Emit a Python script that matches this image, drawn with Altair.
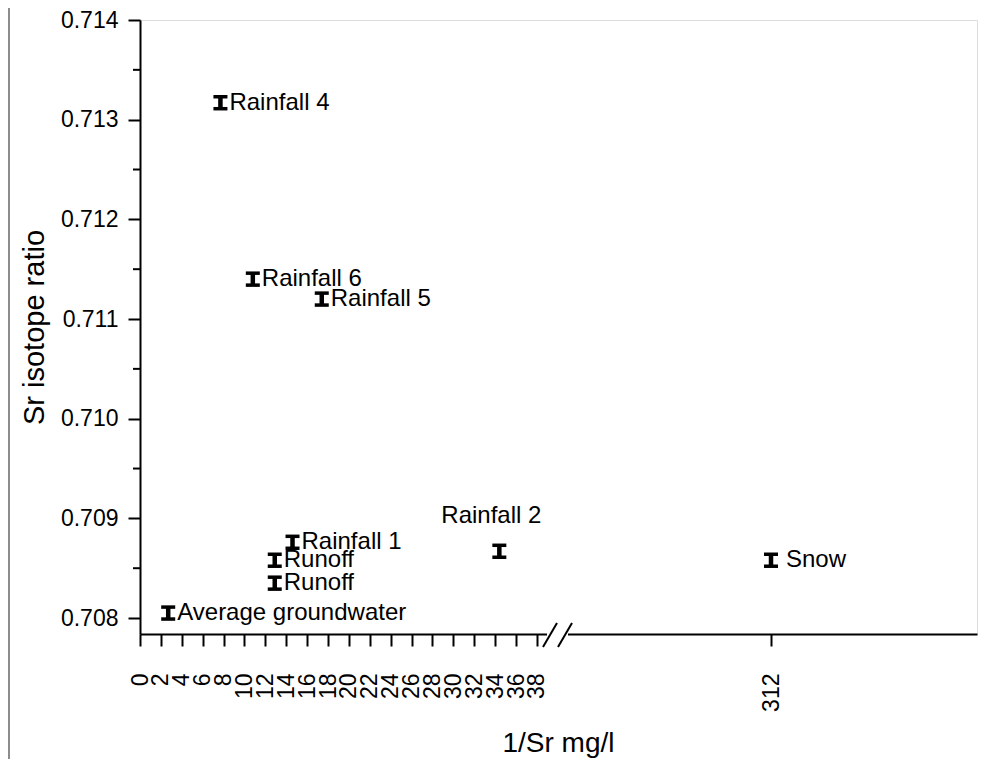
import altair as alt
import pandas as pd

FONT = "Liberation Sans"

# ---- data ----
labels = ["Rainfall 4", "Rainfall 6", "Rainfall 5", "Rainfall 1", "Runoff", "Runoff",
          "Average groundwater", "Rainfall 2", "Snow"]
inv_sr = [7.7, 10.8, 17.4, 14.6, 12.9, 12.9, 2.7, 34.4, 312.0]
sr_ratio = [0.71317, 0.71140, 0.71120, 0.70876, 0.70858, 0.70835, 0.70805, 0.70867, 0.70858]
sr_err = [0.00006, 0.00006, 0.00006, 0.00006, 0.00006, 0.00006, 0.00006, 0.00006, 0.00006]

x_ticks = [0, 2, 4, 6, 8, 10, 12, 14, 16, 18, 20, 22, 24, 26, 28, 30, 32, 34, 36, 38, 312]
y_ticks = [0.708, 0.709, 0.710, 0.711, 0.712, 0.713, 0.714]
y_minor = [0.7085, 0.7095, 0.7105, 0.7115, 0.7125, 0.7135]

df = pd.DataFrame({"label": labels, "x": inv_sr, "y": sr_ratio, "err": sr_err})
minor_df = pd.DataFrame({"v": y_minor})
one = pd.DataFrame({"a": [0]})

W, H = 837, 614

# broken x axis: piecewise linear scale
x_scale = alt.Scale(domain=[0, 39.25, 291.6, 332.6], range=[0, 410, 427, W],
                    nice=False, zero=False)
y_scale = alt.Scale(domain=[0.70784, 0.714], nice=False, zero=False)

x_axis = alt.Axis(values=x_ticks, labelAngle=270, labelFontSize=23, labelFont=FONT,
                  labelColor="black", labelPadding=27, labelFlush=False, labelOverlap=False,
                  tickSize=12, tickWidth=2, tickColor="black", domainWidth=2,
                  domainColor="black", grid=False, title="1/Sr mg/l", titleFont=FONT,
                  titleFontSize=28, titleFontWeight="normal", titleColor="black",
                  titleX=418, titleY=117, titleAlign="center", titleBaseline="alphabetic")
y_axis = alt.Axis(values=y_ticks, format=".3f", labelFontSize=23, labelFont=FONT,
                  labelColor="black", labelPadding=10, labelFlush=False,
                  tickSize=12, tickWidth=2, tickColor="black", domainWidth=2,
                  domainColor="black", grid=False, title="Sr isotope ratio", titleFont=FONT,
                  titleFontSize=29, titleFontWeight="normal", titleColor="black",
                  titleAngle=270, titleX=-97, titleY=307, titleAlign="center",
                  titleBaseline="alphabetic")

base = alt.Chart(df).transform_calculate(lo="datum.y - datum.err", hi="datum.y + datum.err")

stem = base.mark_rule(color="black", strokeWidth=4.5).encode(
    x=alt.X("x:Q", scale=x_scale, axis=x_axis),
    y=alt.Y("lo:Q", scale=y_scale, axis=y_axis),
    y2="hi:Q",
)
cap_lo = base.mark_rule(color="black", strokeWidth=3.5, xOffset=-7, x2Offset=7).encode(
    x="x:Q", x2="x:Q", y="lo:Q")
cap_hi = base.mark_rule(color="black", strokeWidth=3.5, xOffset=-7, x2Offset=7).encode(
    x="x:Q", x2="x:Q", y="hi:Q")

txt = dict(font=FONT, fontSize=24, color="black")
lab_right = base.mark_text(align="left", baseline="middle", dx=9, **txt).encode(
    x="x:Q", y="y:Q", text="label:N"
).transform_filter("datum.label != 'Rainfall 2' && datum.label != 'Snow'")
lab_snow = base.mark_text(align="left", baseline="middle", dx=15, **txt).encode(
    x="x:Q", y="y:Q", text="label:N"
).transform_filter("datum.label == 'Snow'")
lab_r2 = base.mark_text(align="center", baseline="alphabetic", dx=-8, dy=-28, **txt).encode(
    x="x:Q", y="y:Q", text="label:N"
).transform_filter("datum.label == 'Rainfall 2'")

minor = alt.Chart(minor_df).mark_rule(color="black", strokeWidth=2).encode(
    y=alt.Y("v:Q", scale=y_scale), x=alt.value(0), x2=alt.value(-7))

# axis break decoration
gap = alt.Chart(one).mark_rect(color="white").encode(
    x=alt.value(407), x2=alt.value(428), y=alt.value(610), y2=alt.value(618))
slash1 = alt.Chart(one).mark_rule(color="black", strokeWidth=2).encode(
    x=alt.value(403), x2=alt.value(417), y=alt.value(627), y2=alt.value(603))
slash2 = alt.Chart(one).mark_rule(color="black", strokeWidth=2).encode(
    x=alt.value(418), x2=alt.value(432), y=alt.value(627), y2=alt.value(603))

# thin frame line at the left edge of the figure
frame = alt.Chart(one).mark_rule(color="#666666", strokeWidth=1.5).encode(
    x=alt.value(-131), y=alt.value(-12), y2=alt.value(753))

chart = alt.layer(stem, cap_lo, cap_hi, lab_right, lab_snow, lab_r2, minor, gap, slash1, slash2,
                  frame
).properties(
    width=W, height=H,
    autosize=alt.AutoSizeParams(type="none"),
    padding={"left": 132, "top": 12, "right": 2, "bottom": 125},
).configure_view(stroke=None).configure(background="white")

chart.save("out.html", embed_options={"renderer": "svg", "actions": False})
